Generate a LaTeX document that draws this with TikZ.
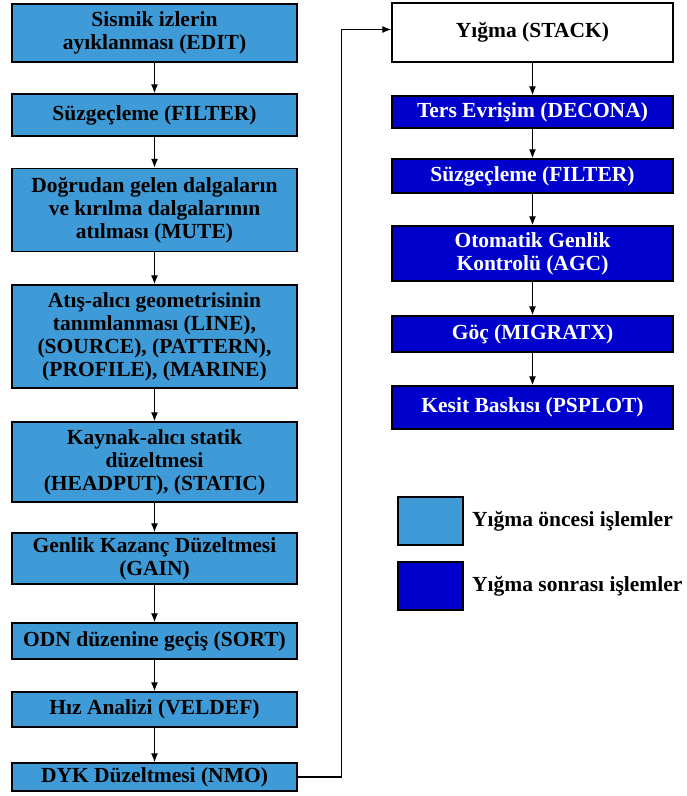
\documentclass[tikz,border=0pt]{standalone}
\usepackage{fontspec}
\setmainfont{Liberation Serif}
\usetikzlibrary{arrows.meta}
\definecolor{oncesi}{HTML}{3F9BD7}
\definecolor{sonrasi}{HTML}{0000CC}
\tikzset{
  islem/.style={draw, line width=1.5pt, align=center, inner sep=0pt,
    font=\fontsize{21.5}{23}\selectfont\bfseries},
  once/.style={islem, fill=oncesi, minimum width=285pt},
  sonra/.style={islem, fill=sonrasi, text=white, minimum width=281pt},
  ok/.style={-{Latex[length=9pt, width=7pt]}, line width=1.2pt},
}
\begin{document}
\begin{tikzpicture}[x=1pt, y=-1pt]
          \useasboundingbox (0,0) rectangle (687,796);
          % yigma oncesi
          \node[once, minimum height=58pt] (edit) at (154.5,33) {Sismik izlerin\\ayıklanması (EDIT)};
          \node[once, minimum height=42pt] (filter) at (154.5,115) {Süzgeçleme (FILTER)};
          \node[once, minimum height=83pt] (mute) at (154.5,210) {Doğrudan gelen dalgaların\\ve kırılma dalgalarının\\atılması (MUTE)};
          \node[once, minimum height=103pt] (line) at (154.5,336.5) {Atış-alıcı geometrisinin\\tanımlanması (LINE),\\(SOURCE), (PATTERN),\\(PROFILE), (MARINE)};
          \node[once, minimum height=80pt] (static) at (154.5,462) {Kaynak-alıcı statik\\düzeltmesi\\(HEADPUT), (STATIC)};
          \node[once, minimum height=51pt] (gain) at (154.5,558.5) {Genlik Kazanç Düzeltmesi\\(GAIN)};
          \node[once, minimum height=36pt] (sort) at (154.5,641) {ODN düzenine geçiş (SORT)};
          \node[once, minimum height=35pt] (veldef) at (154.5,709.5) {Hız Analizi (VELDEF)};
          \node[once, minimum height=28pt] (nmo) at (154.5,777) {DYK Düzeltmesi (NMO)};
          % yigma ve sonrasi
          \node[islem, fill=white, minimum width=281pt, minimum height=59pt] (stack) at (532.5,32.5) {Yığma (STACK)};
          \node[sonra, minimum height=32pt] (decona) at (532.5,112) {Ters Evrişim (DECONA)};
          \node[sonra, minimum height=34pt] (filter2) at (532.5,176) {Süzgeçleme (FILTER)};
          \node[sonra, minimum height=55pt] (agc) at (532.5,253.5) {Otomatik Genlik\\Kontrolü (AGC)};
          \node[sonra, minimum height=36pt] (migratx) at (532.5,334) {Göç (MIGRATX)};
          \node[sonra, minimum height=43pt] (psplot) at (532.5,407.5) {Kesit Baskısı (PSPLOT)};
          % lejant
          \node[islem, fill=oncesi, minimum width=65pt, minimum height=48pt] (l1) at (430.5,521) {};
          \node[islem, fill=sonrasi, minimum width=65pt, minimum height=48pt] (l2) at (430.5,586) {};
          \node[font=\fontsize{21.5}{23}\selectfont\bfseries, anchor=west, inner sep=0pt] (t1) at (472,521) {Yığma öncesi işlemler};
          \node[font=\fontsize{21.5}{23}\selectfont\bfseries, anchor=west, inner sep=0pt] (t2) at (472,586) {Yığma sonrası işlemler};
          % oklar
          \draw[ok] (edit) to (filter);
          \draw[ok] (filter) to (mute);
          \draw[ok] (mute) to (line);
          \draw[ok] (line) to (static);
          \draw[ok] (static) to (gain);
          \draw[ok] (gain) to (sort);
          \draw[ok] (sort) to (veldef);
          \draw[ok] (veldef) to (nmo);
          \draw[ok] (nmo.east) -- ++(44,0) |- ([yshift=3pt]stack.west);
          \draw[ok] (stack) to (decona);
          \draw[ok] (decona) to (filter2);
          \draw[ok] (filter2) to (agc);
          \draw[ok] (agc) to (migratx);
          \draw[ok] (migratx) to (psplot);
        \end{tikzpicture}
\end{document}
